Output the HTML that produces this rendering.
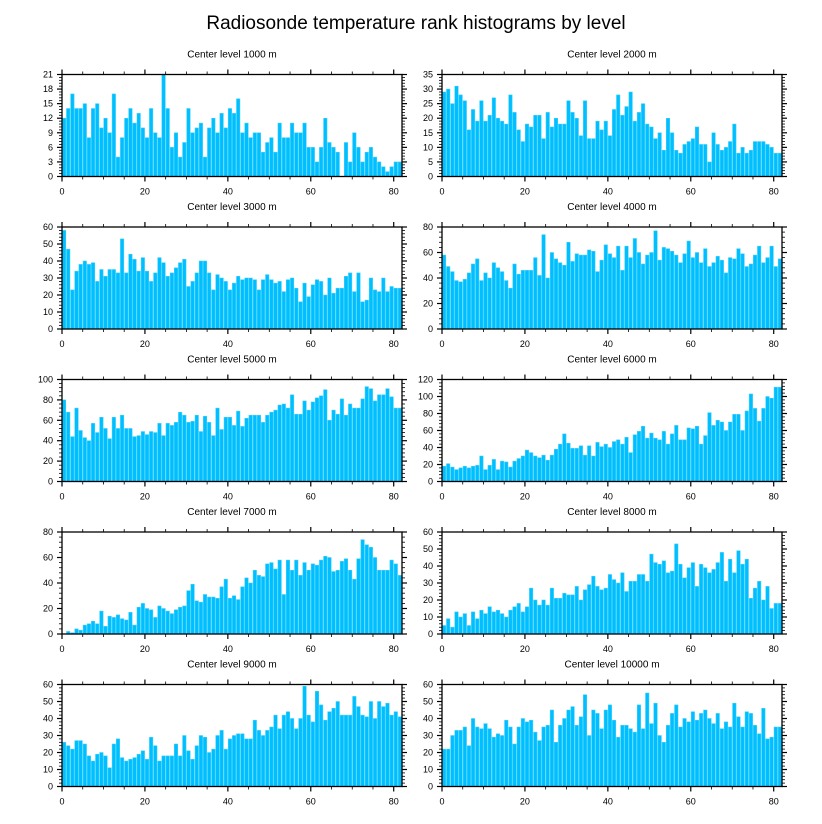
<!DOCTYPE html>
<html><head><meta charset="utf-8"><style>
html,body{margin:0;padding:0;background:#fff;}
svg{display:block;font-family:"Liberation Sans",sans-serif;}
</style></head><body>
<svg id="chart" width="822" height="824" viewBox="0 0 822 824" xmlns="http://www.w3.org/2000/svg">
<text x="416" y="29" text-anchor="middle" font-size="19">Radiosonde temperature rank histograms by level</text>
</svg>
<script>
const levels = ["1000","2000","3000","4000","5000","6000","7000","8000","9000","10000"];
const yMaxes = [21,35,60,80,100,120,80,60,60,60];
const ySteps = [3,5,10,20,20,20,20,10,10,10];
const xTicks = [0,20,40,60,80];
const v1000 = [12,14,17,14,14,15,8,14,15,10,12,9,17,4,8,12,14,11,13,10,8,14,9,8,21,14,6,9,4,7,14,9,10,11,4,10,12,9,13,10,14,13,16,9,11,8,9,9,5,7,8,5,11,8,8,11,9,9,11,6,6,3,6,12,7,6,5,0,7,3,9,6,3,5,6,4,3,2,1,2,3,3];
const v2000 = [29,30,25,31,28,26,16,23,19,26,19,21,27,20,19,18,28,22,16,12,18,17,21,21,13,22,17,20,18,18,26,22,20,14,26,13,13,19,16,19,14,23,28,21,24,29,19,22,25,18,17,13,15,9,20,15,9,8,11,12,13,17,11,11,5,15,11,9,10,12,18,8,10,8,9,12,12,12,11,10,8,8];
const v3000 = [58,47,23,34,38,40,38,39,28,35,31,35,35,33,53,33,44,41,34,42,34,28,33,42,39,31,33,36,39,41,25,28,33,40,40,33,23,32,30,28,23,27,31,29,30,30,29,23,29,32,29,27,28,22,29,30,24,16,27,19,26,29,28,20,30,21,24,24,31,33,22,33,16,17,30,23,22,30,22,25,24,24];
const v4000 = [58,49,45,38,37,39,44,51,55,38,44,40,52,48,45,38,32,51,43,46,46,46,56,42,74,40,60,55,52,50,68,53,59,58,58,62,61,45,54,66,59,56,65,46,65,56,71,60,51,58,60,77,54,64,63,61,58,52,59,69,56,60,52,63,49,52,57,54,44,56,55,63,59,49,51,58,65,52,56,65,49,55];
const v5000 = [80,68,44,72,50,43,40,57,48,63,52,42,63,52,65,52,52,44,45,49,46,49,48,57,45,57,55,58,68,65,58,59,65,49,64,58,45,72,51,63,63,55,69,54,62,65,65,65,58,65,68,70,75,76,72,85,66,66,79,70,78,82,84,90,60,70,66,81,65,76,72,72,81,93,91,79,85,85,91,83,72,72];
const v6000 = [18,21,17,14,16,18,16,18,19,30,14,19,26,14,24,23,17,24,27,30,37,34,30,28,31,25,31,38,44,56,45,39,39,42,31,42,30,46,41,44,40,47,49,44,52,34,55,59,65,51,57,51,49,59,44,56,66,49,49,63,62,65,44,54,81,66,72,70,60,70,79,79,60,83,103,86,71,86,100,98,111,111];
const v7000 = [0,2,1,4,3,7,8,10,8,18,6,14,13,15,12,11,17,7,21,24,20,19,13,22,20,18,16,19,21,22,34,39,26,25,31,29,29,28,37,43,28,30,27,37,44,40,50,46,45,55,56,51,58,31,58,50,58,46,56,50,55,54,58,61,60,49,50,57,59,50,43,59,74,70,68,60,50,50,50,58,55,46];
const v8000 = [5,9,4,13,10,12,5,13,9,14,12,16,13,14,12,10,14,16,18,13,16,27,20,17,20,17,27,21,21,24,23,23,28,20,26,29,34,28,26,27,35,32,30,36,25,31,31,35,35,31,47,42,41,43,36,37,53,41,33,39,42,28,41,39,36,38,42,48,31,44,36,49,41,44,21,27,31,20,28,15,18,18];
const v9000 = [26,24,22,27,27,25,18,15,19,20,18,11,25,28,17,15,16,17,19,21,16,29,24,15,18,18,18,25,18,30,21,16,24,30,29,20,22,30,33,22,28,30,31,31,28,28,39,33,30,33,35,42,34,42,44,40,34,40,59,42,38,56,48,39,44,46,50,42,42,42,53,47,42,41,50,40,50,47,49,42,44,41];
const v10000 = [22,22,30,33,33,35,24,40,35,34,37,34,29,31,30,39,35,25,35,40,38,39,32,27,35,36,45,26,36,40,45,47,36,41,54,30,45,43,34,45,48,39,29,36,36,34,32,48,34,55,37,49,30,26,36,43,48,35,40,38,44,39,43,45,40,37,43,34,38,35,49,41,35,44,43,36,31,46,28,29,35,35];
const seriesList = [v1000,v2000,v3000,v4000,v5000,v6000,v7000,v8000,v9000,v10000];

const NS="http://www.w3.org/2000/svg";
const svg=document.getElementById('chart');
function mk(tag,attrs,parent){const e=document.createElementNS(NS,tag);for(const k in attrs)e.setAttribute(k,attrs[k]);(parent||svg).appendChild(e);return e;}
const colX=[62,442], W=340, H=102;
const rowY=[74.5,227,379.5,532,684.5];
const X_MAX=82;
for(let p=0;p<10;p++){
  const left=colX[p%2], top=rowY[Math.floor(p/2)], bottom=top+H, right=left+W;
  const g=mk('g',{});
  
  
  const xs=v=>left+v/X_MAX*W;
  const ys=v=>bottom-v/yMaxes[p]*H;
  const t=mk('text',{x:left+W/2,y:top-17,'text-anchor':'middle','font-size':'10'},g);
  
  
  t.textContent='Center level '+levels[p]+' m';
  const vals=seriesList[p];
  for(let i=0;i<vals.length;i++){
    const y=ys(vals[i]);
    const r=mk('rect',{x:xs(i+0.08),y:y,width:xs(0.84)-left,height:bottom-y,fill:'#00BFFF',stroke:'#3fd0ff','stroke-width':'0.5'},g);
    
    
  }
  const f=mk('rect',{x:left,y:top,width:W,height:H,fill:'none',stroke:'#000','stroke-width':'1.3'},g);
  
  
  // x ticks
  for(let v=0;v<=X_MAX;v+=5){
    const major=v%20===0, L=major?5:3, x=xs(v);
    mk('line',{x1:x,x2:x,y1:bottom,y2:bottom+L,stroke:'#000','stroke-width':major?1.2:0.8},g);
    mk('line',{x1:x,x2:x,y1:top,y2:top-L,stroke:'#000','stroke-width':major?1.2:0.8},g);
  }
  xTicks.forEach(v=>{
    const tl=mk('text',{x:xs(v),y:bottom+18,'text-anchor':'middle','font-size':'9'},g);
    
    
    tl.textContent=v;
  });
  // y ticks
  const step=ySteps[p], minor=step/5;
  for(let k=0;k<=Math.round(yMaxes[p]/minor);k++){
    const v=k*minor, major=k%5===0, L=major?5:3, y=ys(v);
    mk('line',{x1:left,x2:left-L,y1:y,y2:y,stroke:'#000','stroke-width':major?1.2:0.8},g);
    mk('line',{x1:right,x2:right+L,y1:y,y2:y,stroke:'#000','stroke-width':major?1.2:0.8},g);
    if(major){
      const tl=mk('text',{x:left-9,y:y+3,'text-anchor':'end','font-size':'9'},g);
      
      
      tl.textContent=Math.round(v);
    }
  }
}
</script>
</body></html>
